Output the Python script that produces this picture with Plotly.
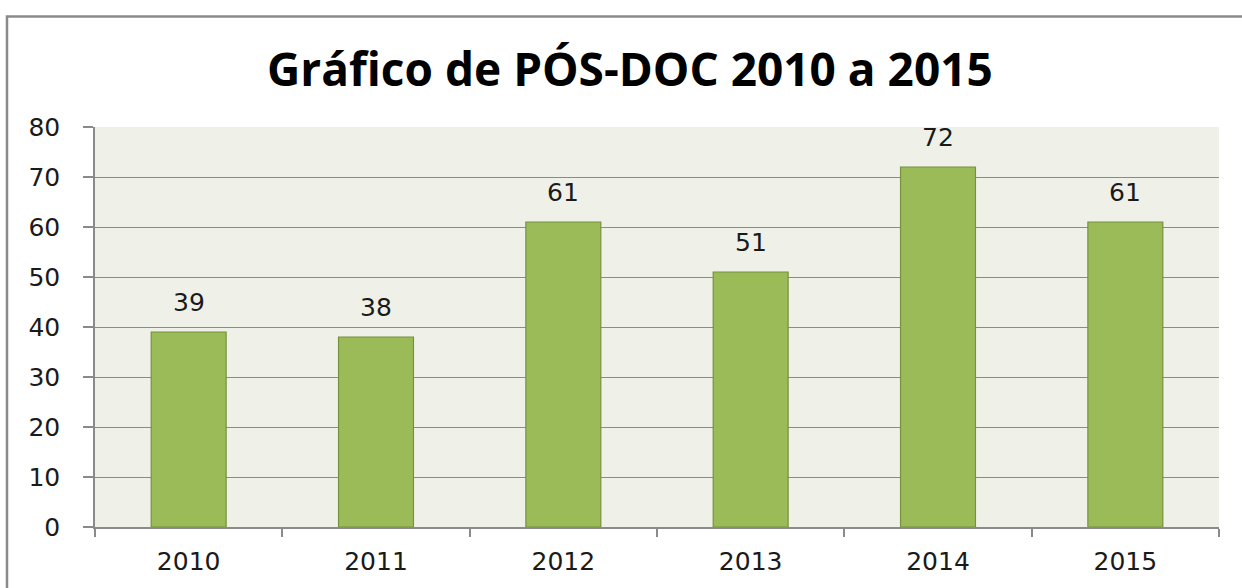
import plotly.graph_objects as go

years = ["2010", "2011", "2012", "2013", "2014", "2015"]
values = [39, 38, 61, 51, 72, 61]
y_ticks = [0, 10, 20, 30, 40, 50, 60, 70, 80]
title_text = "Gráfico de PÓS-DOC 2010 a 2015"

W, H = 1242, 588
L, R, T, B = 95, 23, 127, 59
pw, ph = W - L - R, H - T - B

def px_x(p):
    return (p - L) / pw

def px_y(p):
    return (H - B - p) / ph

tick_font = dict(family="DejaVu Sans", size=25, color="#1a1a1a")

fig = go.Figure()
fig.add_trace(go.Bar(
    x=years, y=values, width=0.4,
    marker=dict(color="#9BBB59", line=dict(color="#76923C", width=1.2)),
    hoverinfo="skip",
))

for i, v in enumerate(values):
    fig.add_annotation(x=i, y=v, text=str(v), showarrow=False,
                       xref="x", yref="y", yanchor="bottom", yshift=13,
                       font=tick_font)

fig.add_annotation(x=px_x(630), y=px_y(68), xref="paper", yref="paper",
                   text="<b>" + title_text + "</b>", showarrow=False,
                   xanchor="center", yanchor="middle",
                   font=dict(family="Open Sans", size=46, color="#000000"))

fig.add_shape(type="rect", xref="paper", yref="paper",
              x0=px_x(7), x1=px_x(1300), y0=px_y(16), y1=px_y(700),
              line=dict(color="#8a8a8a", width=2.5), fillcolor="rgba(0,0,0,0)",
              layer="below")

fig.update_layout(
    width=W, height=H,
    margin=dict(l=L, r=R, t=T, b=B),
    paper_bgcolor="white", plot_bgcolor="#EFF1E9",
    showlegend=False,
    bargap=0.6,
)
fig.update_xaxes(
    type="category", range=[-0.5, 5.5],
    showline=True, linecolor="#8a8a8a", linewidth=1.5,
    ticks="outside", tickson="boundaries", ticklen=8, tickcolor="#8a8a8a", tickwidth=1.5,
    tickfont=tick_font, ticklabelstandoff=11, showgrid=False,
)
fig.update_yaxes(
    range=[0, 80], tickvals=y_ticks, ticktext=[str(t) for t in y_ticks],
    showline=True, linecolor="#8a8a8a", linewidth=1.5,
    ticks="outside", ticklen=10, tickcolor="#8a8a8a", tickwidth=1.5,
    tickfont=tick_font, ticklabelstandoff=18,
    showgrid=True, gridcolor="#8a8a8a", gridwidth=1.2, zeroline=False,
)

fig.write_html("out.html")
